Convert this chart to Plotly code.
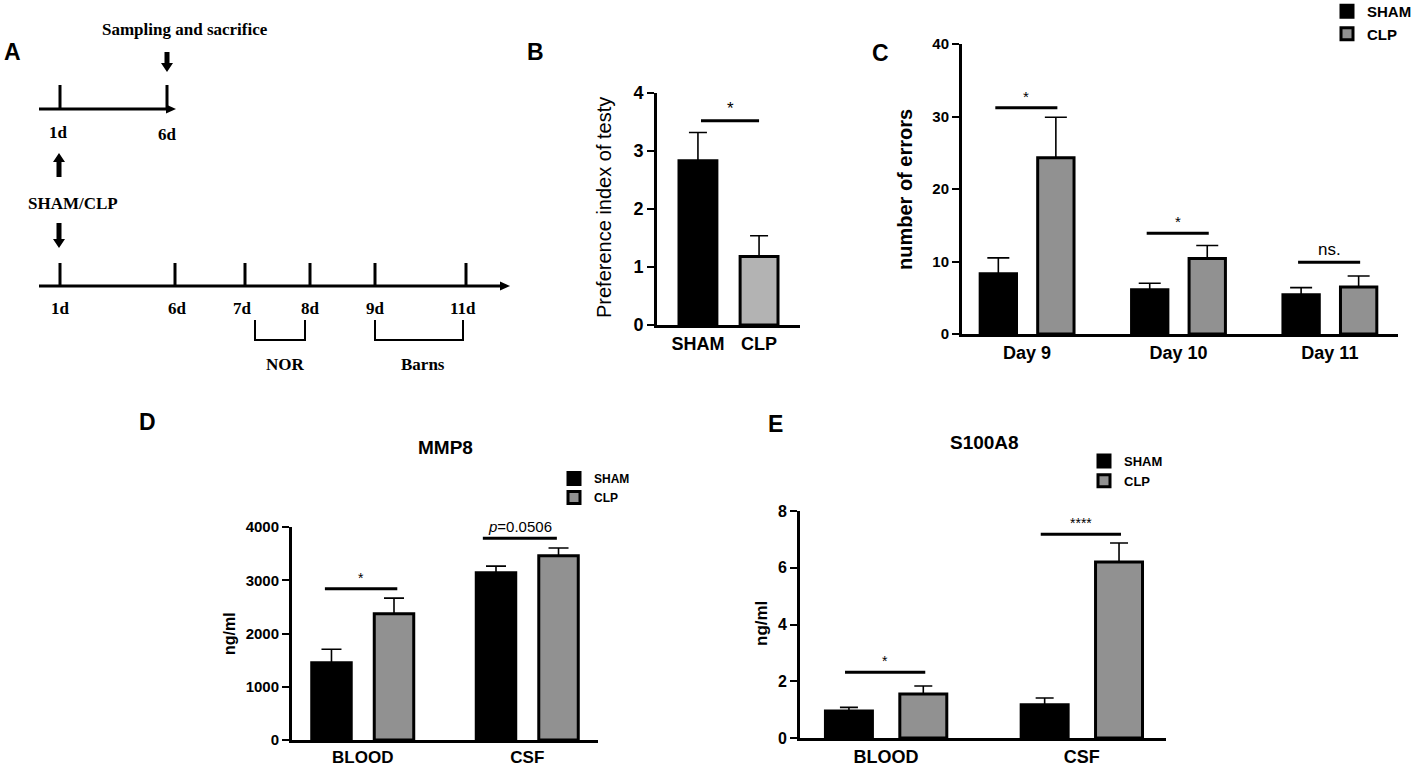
import plotly.graph_objects as go

W, H = 1417, 772
SANS = "Liberation Sans, Arial, sans-serif"
SERIF = "Liberation Serif, Times New Roman, serif"

SHAM_COLOR = "#000000"
CLP_COLOR = "#919191"
CLP_COLOR_B = "#b3b3b3"

# B: preference index
b_cats = ["SHAM", "CLP"]
b_mean = [2.83, 1.18]
b_top = [3.32, 1.54]

# C: Barnes maze errors
c_days = ["Day 9", "Day 10", "Day 11"]
c_sham = [8.3, 6.1, 5.4]
c_sham_top = [10.5, 7.0, 6.4]
c_clp = [24.3, 10.4, 6.5]
c_clp_top = [29.9, 12.2, 8.0]
c_sig = ["*", "*", "ns."]
c_sig_y = [31.2, 13.9, 9.9]

# D: MMP8
d_cats = ["BLOOD", "CSF"]
d_sham = [1450, 3140]
d_sham_top = [1705, 3265]
d_clp = [2370, 3460]
d_clp_top = [2665, 3605]
d_sig = ["*", "<i>p</i>=0.0506"]
d_sig_y = [2840, 3790]

# E: S100A8
e_cats = ["BLOOD", "CSF"]
e_sham = [0.95, 1.17]
e_sham_top = [1.08, 1.41]
e_clp = [1.55, 6.2]
e_clp_top = [1.83, 6.87]
e_sig = ["*", "****"]
e_sig_y = [2.32, 7.18]


def px(x):
    return x / W


def py(y):
    return 1 - y / H


def xdom(a, b):
    return [a / W, b / W]


def ydom(top, bottom):
    return [1 - bottom / H, 1 - top / H]


def up_err(mean, top, cap=9):
    return dict(type="data", symmetric=False, array=[t - m for m, t in zip(mean, top)],
                arrayminus=[0] * len(mean), color="black", thickness=1.6, width=cap)


fig = go.Figure()

# panel B
fig.add_trace(go.Bar(x=b_cats, y=b_mean, width=0.62,
                     marker=dict(color=[SHAM_COLOR, CLP_COLOR_B], line=dict(color="black", width=3)),
                     error_y=up_err(b_mean, b_top), showlegend=False, xaxis="x", yaxis="y"))

# panels C, D, E (two groups each)
panels = [
    ("x2", "y2", c_days, c_sham, c_sham_top, c_clp, c_clp_top, "legend", 11),
    ("x3", "y3", d_cats, d_sham, d_sham_top, d_clp, d_clp_top, "legend2", 10),
    ("x4", "y4", e_cats, e_sham, e_sham_top, e_clp, e_clp_top, "legend3", 9),
]
for xa, ya, cats, sham, sham_top, clp, clp_top, leg, cap in panels:
    fig.add_trace(go.Bar(x=cats, y=sham, name="SHAM", offset=-0.31, width=0.24,
                         marker=dict(color=SHAM_COLOR, line=dict(color="black", width=3)),
                         error_y=up_err(sham, sham_top, cap), xaxis=xa, yaxis=ya, legend=leg))
    fig.add_trace(go.Bar(x=cats, y=clp, name="CLP", offset=0.07, width=0.24,
                         marker=dict(color=CLP_COLOR, line=dict(color="black", width=3)),
                         error_y=up_err(clp, clp_top, cap), xaxis=xa, yaxis=ya, legend=leg))

axis_common = dict(showline=True, linecolor="black", linewidth=3, showgrid=False, zeroline=False,
                   mirror=False, fixedrange=True, automargin=False)
y_common = dict(axis_common, ticks="outside", ticklen=7, tickwidth=2, tickcolor="black")
x_common = dict(axis_common, ticks="")
leg_common = dict(xanchor="left", yanchor="top", bgcolor="rgba(0,0,0,0)", tracegroupgap=0)

fig.update_layout(
    width=W, height=H, margin=dict(l=0, r=0, t=0, b=0, autoexpand=False),
    paper_bgcolor="white", plot_bgcolor="white",
    barmode="overlay",
    font=dict(family=SANS, color="black"),
    xaxis=dict(x_common, domain=xdom(657, 800), range=[-0.67, 1.67], anchor="y",
               tickfont=dict(size=18, weight="bold")),
    yaxis=dict(y_common, domain=ydom(93, 325), range=[0, 4], dtick=1, anchor="x",
               tickfont=dict(size=18, weight="bold")),
    xaxis2=dict(x_common, domain=xdom(962, 1398), range=[-0.43, 2.45], anchor="y2",
                tickfont=dict(size=18, weight="bold")),
    yaxis2=dict(y_common, domain=ydom(44, 334), range=[0, 40], dtick=10, anchor="x2",
                tickfont=dict(size=15, weight="bold")),
    xaxis3=dict(x_common, domain=xdom(292, 598), range=[-0.43, 1.43], anchor="y3",
                tickfont=dict(size=17, weight="bold")),
    yaxis3=dict(y_common, domain=ydom(527, 740), range=[0, 4000], dtick=1000, anchor="x3",
                tickfont=dict(size=15, weight="bold")),
    xaxis4=dict(x_common, domain=xdom(800, 1166), range=[-0.44, 1.43], anchor="y4",
                tickfont=dict(size=18, weight="bold")),
    yaxis4=dict(y_common, domain=ydom(511, 738), range=[0, 8], dtick=2, anchor="x4",
                tickfont=dict(size=16, weight="bold")),
    legend=dict(leg_common, x=px(1327), y=py(-5), font=dict(size=15, weight="bold")),
    legend2=dict(leg_common, x=px(554), y=py(464), font=dict(size=12, weight="bold")),
    legend3=dict(leg_common, x=px(1084), y=py(446), font=dict(size=13, weight="bold")),
)

shapes = []
annotations = []


def sig(xa, ya, idx, y, label, lo=-0.21, hi=0.2, size=14):
    shapes.append(dict(type="line", xref=xa, yref=ya, x0=idx + lo, x1=idx + hi, y0=y, y1=y,
                       line=dict(color="black", width=3)))
    annotations.append(dict(xref=xa, yref=ya, x=idx + (lo + hi) / 2, y=y, text=label,
                            showarrow=False, yanchor="bottom", yshift=1,
                            font=dict(family=SANS, size=size, color="black")))


sig("x", "y", 0, 3.52, "*", lo=0.05, hi=1.0, size=17)
for i, (lab, yv) in enumerate(zip(c_sig, c_sig_y)):
    sig("x2", "y2", i, yv, lab, size=17 if lab == "ns." else 15)
sig("x3", "y3", 0, d_sig_y[0], d_sig[0], lo=-0.23, hi=0.21)
sig("x3", "y3", 1, d_sig_y[1], d_sig[1], lo=-0.27, hi=0.18, size=15)
for i, (lab, yv) in enumerate(zip(e_sig, e_sig_y)):
    sig("x4", "y4", i, yv, lab, size=14)


def label(x, y, text, size, family=SANS, bold=True, angle=0):
    annotations.append(dict(xref="paper", yref="paper", x=px(x), y=py(y), text=text,
                            showarrow=False, xanchor="center", yanchor="middle", textangle=angle,
                            font=dict(family=family, size=size, color="black",
                                      weight="bold" if bold else "normal")))


# panel letters
for t, x, y in [("A", 12, 52), ("B", 535, 52), ("C", 880, 53), ("D", 147, 422), ("E", 775, 424)]:
    label(x, y, t, 23)

# axis titles and panel titles
label(604, 208, "Preference index of testy", 20, bold=False, angle=-90)
label(905, 190, "number of errors", 20, angle=-90)
label(229, 634, "ng/ml", 16, angle=-90)
label(761, 624, "ng/ml", 17, angle=-90)
label(445, 448, "MMP8", 19)
label(984, 442, "S100A8", 19)

# panel A: timeline schematic (pixel layout)
LW = 3
top_y, bot_y = 109, 286


def poly(points):
    d = "M " + " L ".join(f"{px(x)},{py(y)}" for x, y in points) + " Z"
    shapes.append(dict(type="path", xref="paper", yref="paper", path=d,
                       fillcolor="black", line=dict(color="black", width=0)))


def seg(x0, y0, x1, y1, width=LW):
    shapes.append(dict(type="line", xref="paper", yref="paper", x0=px(x0), x1=px(x1), y0=py(y0), y1=py(y1),
                       line=dict(color="black", width=width)))


def hline(x0, x1, y):
    seg(x0, y, x1 - 6, y)
    poly([(x1 - 10, y - 4.5), (x1, y), (x1 - 10, y + 4.5)])


def arrow(x, y_tail, y_tip):
    sgn = 1 if y_tip > y_tail else -1
    neck = y_tip - sgn * 9
    poly([(x - 2.5, y_tail), (x + 2.5, y_tail), (x + 2.5, neck), (x + 6, neck), (x, y_tip),
          (x - 6, neck), (x - 2.5, neck)])


hline(39, 176, top_y)
hline(39, 510, bot_y)
for x in [60, 167]:
    seg(x, 85, x, top_y)
for x in [60, 175, 245, 310, 375, 466]:
    seg(x, 263, x, bot_y)

for t, x, y in [("1d", 58, 133), ("6d", 167, 135)]:
    label(x, y, t, 17, family=SERIF)
for t, x in [("1d", 60), ("6d", 177), ("7d", 242), ("8d", 310), ("9d", 375), ("11d", 463)]:
    label(x, 308, t, 17, family=SERIF)

label(185, 29, "Sampling and sacrifice", 17, family=SERIF)
label(73, 203, "SHAM/CLP", 17, family=SERIF)
label(285, 364, "NOR", 17, family=SERIF)
label(423, 364, "Barns", 17, family=SERIF)

arrow(167, 52, 72)
arrow(59, 177, 153)
arrow(59, 223, 248)

for x0, x1 in [(255, 305), (375, 463)]:
    shapes.append(dict(type="path", xref="paper", yref="paper",
                       path=f"M {px(x0)},{py(320)} L {px(x0)},{py(340)} L {px(x1)},{py(340)} L {px(x1)},{py(320)}",
                       line=dict(color="black", width=2)))

fig.update_layout(shapes=shapes, annotations=annotations)
# page body has a default 8px margin; drop it so the figure fills the window
fig.write_html("out.html", config={"displayModeBar": False},
               post_script="document.body.style.margin='0';")
